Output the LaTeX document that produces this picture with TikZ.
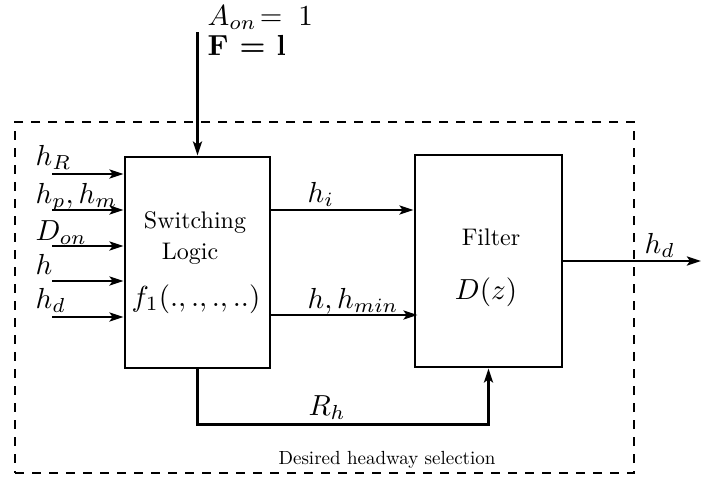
\documentclass[tikz,border=0pt]{standalone}
\usetikzlibrary{arrows.meta}
\tikzset{
  blk/.style={draw, line width=2.8pt, inner sep=0pt},
  arr/.style={line width=2.7pt, -{Stealth[length=14pt,width=9pt,inset=3pt]}},
  frame/.style={draw, line width=2.3pt, dash pattern=on 9pt off 8pt},
  mlab/.style={inner sep=0pt, scale=2.9},
  tlab/.style={inner sep=0pt, scale=2.4},
  slab/.style={inner sep=0pt, scale=1.9},
}
\begin{document}
\begin{tikzpicture}[x=1pt,y=-1pt]
\useasboundingbox (0,0) rectangle (702,483);
% dashed frame
\node[frame, minimum width=619pt, minimum height=351pt, inner sep=0pt] (frm) at (324.5,297.5) {};
% blocks
\node[blk, minimum width=145pt, minimum height=211pt] (sw) at (197.5,262.5) {};
\node[blk, minimum width=147pt, minimum height=212pt] (fi) at (488.5,261) {};
% block texts
\node[tlab] (swt) at (195,223) {Switching};
\node[tlab] (lgt) at (190,254) {Logic};
\node[mlab] (fun) at (196,299) {$f_1(.,.,.,..)$};
\node[tlab] (flt) at (491,237) {Filter};
\node[mlab] (dz) at (486,292) {$D(z)$};
% top input
\coordinate (top) at (197.5,32);
\node[mlab, anchor=base west] (aon) at (207,25) {$A_{on}\!=\;1$};
\node[mlab, anchor=base west] (fone) at (207,55) {\textbf{F = l}};
\draw[arr] (top) -- (sw.north);
% left inputs
\coordinate (i1) at (52,174);
\coordinate (i2) at (52,210);
\coordinate (i3) at (52,246);
\coordinate (i4) at (52,281);
\coordinate (i5) at (52,317);
\foreach \c in {i1,i2,i3,i4,i5} {\draw[arr] (\c) -- (\c -| sw.west);}
\node[mlab, anchor=base west] (lr) at (35,165) {$h_R$};
\node[mlab, anchor=base west] (lpm) at (35,203) {$h_p,h_m$};
\node[mlab, anchor=base west] (ldon) at (35,240) {$D_{on}$};
\node[mlab, anchor=base west] (lh) at (35,274) {$h$};
\node[mlab, anchor=base west] (lhd) at (35,308) {$h_d$};
% middle connections
\coordinate (m1) at (270,210);
\coordinate (m2) at (270,315);
\draw[arr] (m1) -- (m1 -| fi.west);
\draw[arr] (m2) -- ([xshift=4pt]m2 -| fi.west);
\node[mlab, anchor=base west] (lhi) at (307,202) {$h_i$};
\node[mlab, anchor=base west] (lhmin) at (307,308) {$h,h_{min}$};
% R_h feedback
\draw[arr] (sw.south) -- ++(0,55) -| (fi.south);
\node[mlab, anchor=base west] (lrh) at (308,415) {$R_h$};
% output
\coordinate (out) at (701,261);
\draw[arr] (fi.east |- out) -- (out);
\node[mlab, anchor=base west] (lout) at (644,253) {$h_d$};
% frame caption
\node[slab] (cap) at (387,460) {Desired headway selection};
\end{tikzpicture}
\end{document}
